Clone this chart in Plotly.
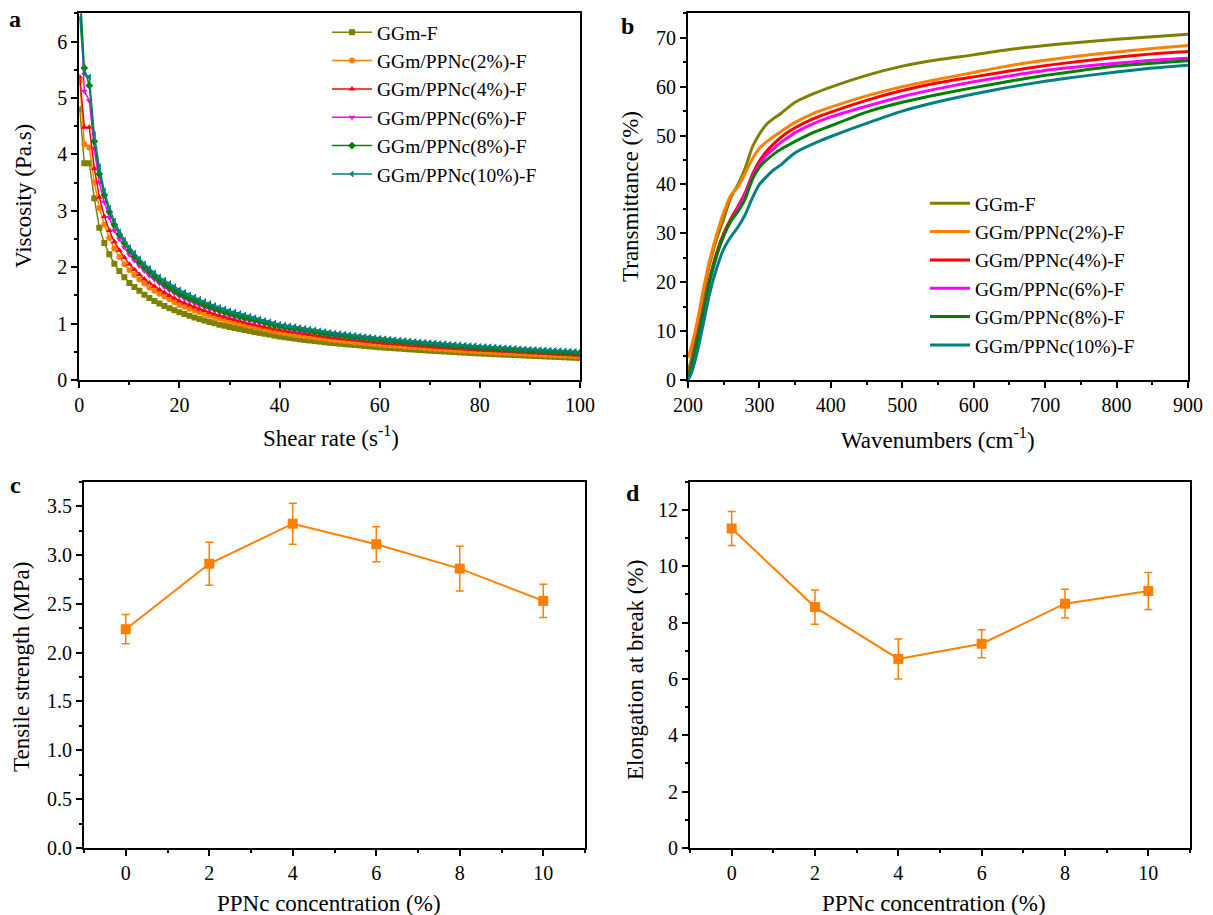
import plotly.graph_objects as go

# ---------------- data ----------------
shear_rate = [0.1, 1, 2, 3, 4, 5, 6, 7, 8, 9,
              10, 11, 12, 13, 14, 15, 16, 17, 18, 19,
              20, 21, 22, 23, 24, 25, 26, 27, 28, 29,
              30, 31, 32, 33, 34, 35, 36, 37, 38, 39,
              40, 41, 42, 43, 44, 45, 46, 47, 48, 49,
              50, 51, 52, 53, 54, 55, 56, 57, 58, 59,
              60, 61, 62, 63, 64, 65, 66, 67, 68, 69,
              70, 71, 72, 73, 74, 75, 76, 77, 78, 79,
              80, 81, 82, 83, 84, 85, 86, 87, 88, 89,
              90, 91, 92, 93, 94, 95, 96, 97, 98, 99, 100]

visc_ggm = [4.80, 3.84, 3.84, 3.22, 2.70, 2.43, 2.23, 2.06, 1.93, 1.82,
            1.72, 1.65, 1.58, 1.51, 1.455, 1.40, 1.355, 1.31, 1.27, 1.235,
            1.20, 1.17, 1.14, 1.11, 1.08, 1.055, 1.03, 1.005, 0.98, 0.96,
            0.94, 0.92, 0.905, 0.885, 0.87, 0.85, 0.835, 0.82, 0.805, 0.785,
            0.77, 0.758, 0.746, 0.734, 0.722, 0.71, 0.70, 0.69, 0.68, 0.67,
            0.66, 0.652, 0.644, 0.636, 0.628, 0.62, 0.612, 0.604, 0.596, 0.588,
            0.58, 0.574, 0.568, 0.562, 0.556, 0.55, 0.544, 0.538, 0.532, 0.526,
            0.52, 0.515, 0.51, 0.505, 0.50, 0.495, 0.49, 0.485, 0.48, 0.475,
            0.47, 0.466, 0.462, 0.458, 0.454, 0.45, 0.446, 0.442, 0.438, 0.434,
            0.43, 0.426, 0.422, 0.418, 0.414, 0.41, 0.406, 0.402, 0.398, 0.394, 0.39]

visc_2 = [5.29, 4.18, 4.12, 3.50, 3.05, 2.75, 2.52, 2.33, 2.18, 2.05,
          1.95, 1.86, 1.78, 1.71, 1.64, 1.58, 1.53, 1.48, 1.43, 1.38,
          1.33, 1.30, 1.265, 1.23, 1.20, 1.17, 1.14, 1.115, 1.09, 1.065,
          1.04, 1.02, 1.0, 0.98, 0.96, 0.94, 0.92, 0.90, 0.88, 0.862,
          0.845, 0.832, 0.819, 0.806, 0.793, 0.78, 0.768, 0.756, 0.744, 0.732,
          0.72, 0.711, 0.702, 0.693, 0.684, 0.675, 0.666, 0.657, 0.648, 0.639,
          0.63, 0.623, 0.616, 0.609, 0.602, 0.595, 0.588, 0.581, 0.574, 0.567,
          0.56, 0.555, 0.549, 0.544, 0.538, 0.533, 0.527, 0.522, 0.516, 0.511,
          0.505, 0.501, 0.496, 0.492, 0.487, 0.483, 0.478, 0.474, 0.469, 0.465,
          0.46, 0.456, 0.452, 0.448, 0.444, 0.44, 0.436, 0.432, 0.428, 0.424, 0.42]

visc_4 = [5.37, 4.48, 4.48, 3.75, 3.24, 2.90, 2.65, 2.45, 2.30, 2.17,
          2.05, 1.96, 1.87, 1.79, 1.72, 1.66, 1.60, 1.55, 1.50, 1.45,
          1.40, 1.365, 1.33, 1.295, 1.26, 1.23, 1.20, 1.17, 1.145, 1.115,
          1.09, 1.068, 1.046, 1.024, 1.002, 0.98, 0.96, 0.94, 0.92, 0.902,
          0.885, 0.872, 0.859, 0.846, 0.833, 0.82, 0.807, 0.794, 0.781, 0.768,
          0.755, 0.746, 0.736, 0.727, 0.717, 0.708, 0.698, 0.689, 0.679, 0.670,
          0.66, 0.653, 0.646, 0.639, 0.632, 0.625, 0.618, 0.611, 0.604, 0.597,
          0.59, 0.584, 0.578, 0.572, 0.566, 0.56, 0.554, 0.548, 0.542, 0.536,
          0.53, 0.526, 0.521, 0.517, 0.512, 0.508, 0.503, 0.499, 0.494, 0.490,
          0.485, 0.481, 0.476, 0.472, 0.467, 0.463, 0.458, 0.454, 0.449, 0.445, 0.44]

visc_6 = [6.90, 5.12, 4.95, 4.10, 3.50, 3.15, 2.88, 2.65, 2.50, 2.35,
          2.22, 2.12, 2.02, 1.93, 1.85, 1.78, 1.71, 1.65, 1.59, 1.535,
          1.48, 1.44, 1.40, 1.36, 1.325, 1.29, 1.26, 1.23, 1.20, 1.17,
          1.14, 1.118, 1.096, 1.074, 1.052, 1.03, 1.008, 0.986, 0.964, 0.944,
          0.925, 0.911, 0.897, 0.883, 0.869, 0.855, 0.842, 0.829, 0.816, 0.803,
          0.79, 0.78, 0.77, 0.76, 0.75, 0.74, 0.73, 0.72, 0.71, 0.70,
          0.69, 0.683, 0.675, 0.668, 0.66, 0.653, 0.645, 0.638, 0.63, 0.623,
          0.615, 0.609, 0.603, 0.597, 0.591, 0.585, 0.579, 0.573, 0.567, 0.561,
          0.555, 0.55, 0.545, 0.54, 0.535, 0.53, 0.525, 0.52, 0.515, 0.51,
          0.505, 0.501, 0.496, 0.492, 0.487, 0.483, 0.478, 0.474, 0.469, 0.465, 0.46]

visc_8 = [7.00, 5.53, 5.22, 4.23, 3.65, 3.28, 2.98, 2.75, 2.58, 2.43,
          2.30, 2.19, 2.09, 2.00, 1.92, 1.84, 1.77, 1.70, 1.64, 1.585,
          1.53, 1.49, 1.45, 1.41, 1.37, 1.33, 1.30, 1.27, 1.24, 1.21,
          1.18, 1.157, 1.134, 1.111, 1.088, 1.065, 1.042, 1.019, 0.996, 0.975,
          0.955, 0.941, 0.927, 0.913, 0.899, 0.885, 0.871, 0.857, 0.843, 0.829,
          0.815, 0.805, 0.795, 0.785, 0.775, 0.765, 0.755, 0.745, 0.735, 0.725,
          0.715, 0.708, 0.70, 0.693, 0.685, 0.678, 0.67, 0.663, 0.655, 0.648,
          0.64, 0.634, 0.627, 0.621, 0.614, 0.608, 0.601, 0.595, 0.588, 0.582,
          0.575, 0.57, 0.565, 0.56, 0.555, 0.55, 0.545, 0.54, 0.535, 0.53,
          0.525, 0.521, 0.516, 0.512, 0.507, 0.503, 0.498, 0.494, 0.489, 0.485, 0.48]

visc_10 = [6.41, 5.43, 5.37, 4.35, 3.78, 3.35, 3.05, 2.82, 2.63, 2.48,
           2.35, 2.25, 2.15, 2.06, 1.98, 1.90, 1.83, 1.77, 1.71, 1.655,
           1.60, 1.555, 1.51, 1.47, 1.43, 1.39, 1.355, 1.32, 1.29, 1.26,
           1.23, 1.205, 1.18, 1.155, 1.13, 1.105, 1.08, 1.057, 1.034, 1.012,
           0.99, 0.976, 0.961, 0.947, 0.932, 0.918, 0.903, 0.889, 0.874, 0.860,
           0.845, 0.835, 0.824, 0.814, 0.803, 0.793, 0.782, 0.772, 0.761, 0.751,
           0.74, 0.732, 0.724, 0.716, 0.708, 0.70, 0.692, 0.684, 0.676, 0.668,
           0.66, 0.654, 0.648, 0.642, 0.636, 0.63, 0.624, 0.618, 0.612, 0.606,
           0.60, 0.595, 0.589, 0.584, 0.578, 0.573, 0.567, 0.562, 0.556, 0.551,
           0.545, 0.541, 0.536, 0.532, 0.527, 0.523, 0.518, 0.514, 0.509, 0.505, 0.50]

wavelength = [200, 205, 210, 215, 220, 225, 230, 240, 250, 260, 270, 280, 290, 300,
              310, 320, 330, 340, 350, 375, 400, 450, 500, 550, 600, 650, 700, 750,
              800, 850, 900]
trans_ggm = [1.5, 4.5, 8.5, 12.5, 16.2, 20.0, 23.5, 28.8, 33.0, 37.3, 40.0, 43.3, 47.6, 50.3,
             52.3, 53.5, 54.5, 55.7, 56.8, 58.5, 59.9, 62.3, 64.2, 65.5, 66.5, 67.6, 68.4, 69.1,
             69.7, 70.2, 70.7]
trans_2 = [4.5, 7.0, 10.0, 13.5, 17.5, 21.0, 24.3, 29.7, 34.3, 37.8, 39.5, 42.3, 45.2, 47.4,
           48.7, 49.8, 50.8, 51.8, 52.7, 54.5, 55.8, 58.1, 60.0, 61.5, 62.9, 64.3, 65.4, 66.3,
           67.1, 67.8, 68.4]
trans_4 = [0.5, 3.0, 6.5, 10.0, 13.5, 17.0, 20.5, 26.0, 30.0, 33.0, 35.5, 38.3, 42.0, 44.8,
           46.8, 48.3, 49.6, 50.7, 51.6, 53.4, 54.8, 57.2, 59.2, 60.8, 62.0, 63.2, 64.3, 65.2,
           66.0, 66.7, 67.2]
trans_6 = [0.3, 2.5, 6.0, 9.5, 13.0, 16.5, 20.0, 25.3, 29.5, 32.5, 35.0, 37.8, 41.5, 44.0,
           46.0, 47.3, 48.6, 49.6, 50.6, 52.4, 53.8, 56.0, 58.0, 59.6, 61.0, 62.2, 63.3, 64.1,
           64.8, 65.4, 65.8]
trans_8 = [0.3, 2.5, 5.8, 9.3, 12.8, 16.3, 20.0, 25.5, 29.5, 32.5, 34.5, 37.0, 41.0, 43.5,
           45.0, 46.2, 47.2, 48.0, 48.8, 50.6, 52.0, 54.8, 56.8, 58.4, 59.8, 61.1, 62.3, 63.3,
           64.2, 64.8, 65.3]
trans_10 = [0.0, 1.5, 4.0, 7.0, 10.5, 14.0, 17.5, 22.8, 26.8, 29.3, 31.3, 33.8, 37.2, 40.0,
            41.6, 43.0, 44.0, 45.3, 46.5, 48.3, 49.8, 52.5, 55.0, 56.9, 58.5, 59.9, 61.1, 62.1,
            63.0, 63.8, 64.4]

ppnc = [0, 2, 4, 6, 8, 10]
tensile = [2.24, 2.91, 3.32, 3.11, 2.86, 2.53]
tensile_err = [0.15, 0.22, 0.21, 0.18, 0.23, 0.17]
elong = [11.34, 8.55, 6.71, 7.25, 8.67, 9.12]
elong_err = [0.60, 0.61, 0.71, 0.50, 0.51, 0.66]

names = ["GGm-F", "GGm/PPNc(2%)-F", "GGm/PPNc(4%)-F",
         "GGm/PPNc(6%)-F", "GGm/PPNc(8%)-F", "GGm/PPNc(10%)-F"]
colors = ["#808000", "#FF8000", "#FF0000", "#FF00FF", "#008000", "#008080"]
symbols = ["square", "circle", "triangle-up", "triangle-down", "diamond", "triangle-left"]
visc_series = [visc_ggm, visc_2, visc_4, visc_6, visc_8, visc_10]
trans_series = [trans_ggm, trans_2, trans_4, trans_6, trans_8, trans_10]

# ---------------- figure ----------------
W, H = 1213, 915
FONT = "Times New Roman, Liberation Serif, DejaVu Serif, serif"
ORANGE = "#FF8000"


def fx(p):
    return p / W


def fy(p):
    return 1 - p / H


fig = go.Figure()

for n, c, s, v in zip(names, colors, symbols, visc_series):
    fig.add_trace(go.Scatter(
        x=shear_rate, y=v, name=n, mode="lines+markers",
        line=dict(color=c, width=1.5),
        marker=dict(color=c, symbol=s, size=6),
        xaxis="x", yaxis="y", legend="legend"))

for n, c, t in zip(names, colors, trans_series):
    fig.add_trace(go.Scatter(
        x=wavelength, y=t, name=n, mode="lines",
        line=dict(color=c, width=3, shape="spline", smoothing=0.6),
        xaxis="x2", yaxis="y2", legend="legend2"))

fig.add_trace(go.Scatter(
    x=ppnc, y=tensile, mode="lines+markers", showlegend=False,
    line=dict(color=ORANGE, width=2),
    marker=dict(color=ORANGE, symbol="square", size=10),
    error_y=dict(type="data", array=tensile_err, color=ORANGE, thickness=1.5, width=4),
    xaxis="x3", yaxis="y3"))

fig.add_trace(go.Scatter(
    x=ppnc, y=elong, mode="lines+markers", showlegend=False,
    line=dict(color=ORANGE, width=2),
    marker=dict(color=ORANGE, symbol="square", size=10),
    error_y=dict(type="data", array=elong_err, color=ORANGE, thickness=1.5, width=4),
    xaxis="x4", yaxis="y4"))


def axis(domain, rng, dtick, minor_dtick, anchor, **kw):
    d = dict(domain=domain, range=rng, dtick=dtick, anchor=anchor,
             automargin=False,
             showline=True, linecolor="black", linewidth=2, mirror=True,
             ticks="outside", ticklen=6, tickwidth=2, tickcolor="black",
             showgrid=False, zeroline=False,
             tickfont=dict(family=FONT, size=20, color="black"),
             minor=dict(ticks="outside", ticklen=3, tickwidth=1.5,
                        tickcolor="black", dtick=minor_dtick, showgrid=False))
    d.update(kw)
    return d


xa = [fx(79.3), fx(580)]
xb = [fx(688), fx(1188)]
xc = [fx(84), fx(585)]
xd = [fx(690), fx(1190)]
ytop = [fy(380), fy(13.3)]
ybot = [fy(848), fy(481.7)]

fig.update_layout(
    template="none",
    width=W, height=H, autosize=False,
    margin=dict(l=0, r=0, t=0, b=0, pad=0),
    paper_bgcolor="white", plot_bgcolor="white",
    font=dict(family=FONT, color="black"),
    xaxis=axis(xa, [0, 100], 20, 10, "y"),
    yaxis=axis(ytop, [0, 6.5], 1, 0.5, "x"),
    xaxis2=axis(xb, [200, 900], 100, 50, "y2"),
    yaxis2=axis(ytop, [0, 75], 10, 5, "x2"),
    xaxis3=axis(xc, [-1, 11], 2, 1, "y3", tick0=0),
    yaxis3=axis(ybot, [0, 3.75], 0.5, 0.25, "x3", tickformat=".1f"),
    xaxis4=axis(xd, [-1, 11], 2, 1, "y4", tick0=0),
    yaxis4=axis(ybot, [0, 13], 2, 1, "x4"),
    legend=dict(x=fx(327), y=fy(13), xanchor="left", yanchor="top",
                bgcolor="rgba(0,0,0,0)", font=dict(family=FONT, size=19.5),
                tracegroupgap=0, itemwidth=40),
    legend2=dict(x=fx(925), y=fy(184), xanchor="left", yanchor="top",
                 bgcolor="rgba(0,0,0,0)", font=dict(family=FONT, size=19.5),
                 tracegroupgap=0, itemwidth=40),
)

ann = []


def title(text, x, y, angle=0, size=23, bold=False):
    ann.append(dict(text=("<b>%s</b>" % text) if bold else text,
                    x=fx(x), y=fy(y), xref="paper", yref="paper",
                    showarrow=False, textangle=angle,
                    font=dict(family=FONT, size=size, color="black"),
                    xanchor="center", yanchor="middle"))


title("Shear rate (s<sup>-1</sup>)", 331, 436)
title("Viscosity (Pa.s)", 23, 196, angle=-90)
title("Wavenumbers (cm<sup>-1</sup>)", 938, 438)
title("Transmittance (%)", 630, 197, angle=-90)
title("PPNc concentration (%)", 329, 903)
title("Tensile strength (MPa)", 21, 667, angle=-90)
title("PPNc concentration (%)", 934, 903)
title("Elongation at break (%)", 635, 670, angle=-90)
title("a", 15, 19, size=24, bold=True)
title("b", 627, 26, size=24, bold=True)
title("c", 15, 485, size=24, bold=True)
title("d", 633, 493, size=24, bold=True)

fig.update_layout(annotations=ann)
fig.write_html("out.html",
               config={"displayModeBar": False},
               post_script="document.body.style.margin='0px';"
                           "document.body.style.overflow='hidden';")
